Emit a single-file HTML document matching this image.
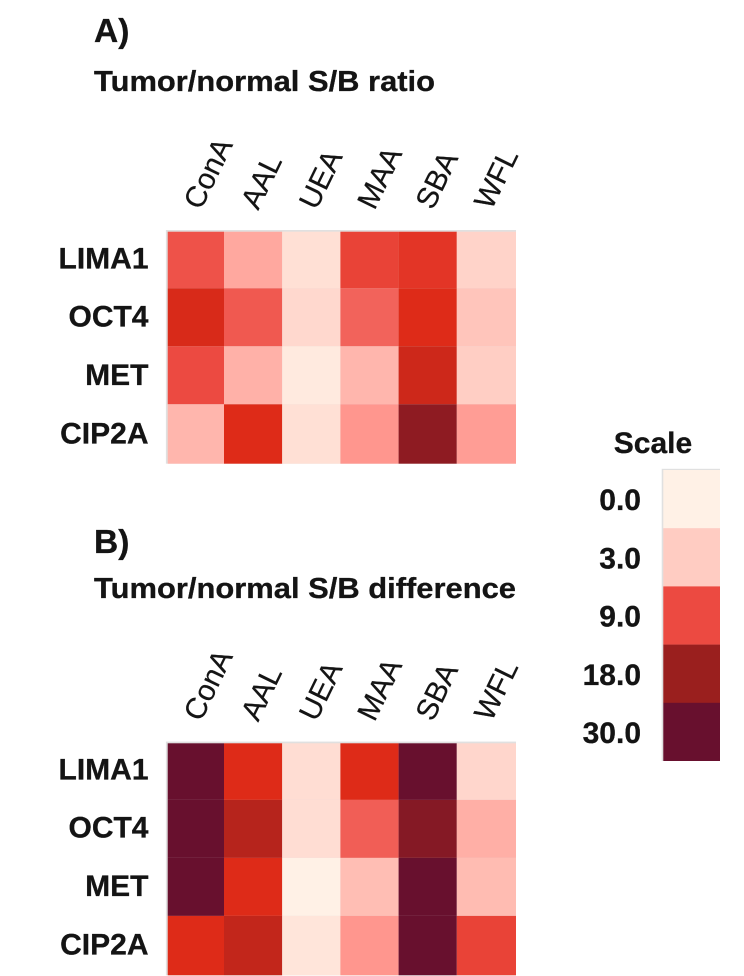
<!DOCTYPE html>
<html lang="en">
<head>
<meta charset="utf-8">
<title>Tumor/normal S/B heatmaps</title>
<style>
  html, body { margin: 0; padding: 0; background: #fff; }
  body { width: 744px; height: 976px; overflow: hidden; }
  svg { display: block; }
  text { font-family: "Liberation Sans", Arial, sans-serif; fill: #141414; }
  .bold { font-weight: 700; stroke: #141414; stroke-width: 0.3; }
</style>
</head>
<body>
<svg id="chart" xmlns="http://www.w3.org/2000/svg" width="744" height="976" viewBox="0 0 744 976">
  <text class="bold" x="94" y="42" font-size="33.5">A)</text>
  <text class="bold" x="94" y="91" font-size="28.5" textLength="341" lengthAdjust="spacingAndGlyphs">Tumor/normal S/B ratio</text>
  <text class="bold" x="94" y="553" font-size="33.5">B)</text>
  <text class="bold" x="94" y="598" font-size="28.5" textLength="422" lengthAdjust="spacingAndGlyphs">Tumor/normal S/B difference</text>
  <text class="bold" x="653" y="453" font-size="30" text-anchor="middle">Scale</text>
</svg>
<script>
// ---- Data ----
const lectins = ['ConA', 'AAL', 'UEA', 'MAA', 'SBA', 'WFL'];
const markers = ['LIMA1', 'OCT4', 'MET', 'CIP2A'];
const ratioValues = [
  [8.7, 5.0, 1.4, 9.7, 11.0, 2.4],
  [12.5, 8.4, 2.0, 8.0, 12.0, 3.4],
  [9.0, 4.5, 0.6, 4.2, 13.5, 2.8],
  [4.2, 12.0, 1.4, 6.0, 21.0, 5.6]
];
const differenceValues = [
  [30, 12, 1.6, 12, 30, 2.2],
  [30, 15.5, 1.6, 8.2, 23, 4.6],
  [30, 12, 0, 3.8, 30, 3.9],
  [12, 14.5, 1.0, 6.0, 30, 9.7]
];
const scaleValues = [0, 3, 9, 18, 30];
const scaleLabels = ['0.0', '3.0', '9.0', '18.0', '30.0'];

// ---- Colour scale ----
const colorStops = [0, 3, 6, 9, 12, 18, 30];
const colorRamp = [
  [255, 241, 230], [255, 204, 194], [255, 150, 142], [236, 74, 65],
  [222, 43, 24], [154, 31, 30], [104, 16, 46]
];
function colorFor(v) {
  const c = Math.max(colorStops[0], Math.min(colorStops[colorStops.length - 1], v));
  let i = 0;
  while (i < colorStops.length - 2 && c > colorStops[i + 1]) i++;
  const t = (c - colorStops[i]) / (colorStops[i + 1] - colorStops[i]);
  const rgb = colorRamp[i].map((a, k) => Math.round(a + (colorRamp[i + 1][k] - a) * t));
  return 'rgb(' + rgb.join(',') + ')';
}

// ---- Helpers ----
const svg = document.getElementById('chart');
const NS = 'http://www.w3.org/2000/svg';
function make(tag, attrs) {
  const el = document.createElementNS(NS, tag);
  Object.keys(attrs).forEach(k => el.setAttribute(k, attrs[k]));
  svg.appendChild(el);
  return el;
}

// ---- Axis functions ----
const plotLeft = 167.7, plotRight = 516, colStep = 58.2;
function xEdge(i) {
  if (i <= 0) return plotLeft;
  if (i >= lectins.length) return plotRight;
  return 224 + colStep * (i - 1);
}
function rowEdge(top, i) {
  if (i <= 0) return top;
  if (i >= markers.length) return top + 232;
  return top + 56.6 + 58 * (i - 1);
}

function drawPanel(values, top, panelName, labelBase, baselineBase) {
  // grey frame on the left and top of the grid
  const frame = make('rect', { x: plotLeft - 1.8, y: top - 1.7, width: plotRight - plotLeft + 1.8, height: 233.7, fill: '#e0e0e0' });
  
  

  values.forEach((row, r) => {
    row.forEach((v, c) => {
      const x0 = xEdge(c), x1 = xEdge(c + 1), y0 = rowEdge(top, r), y1 = rowEdge(top, r + 1);
      const cell = make('rect', { x: x0, y: y0, width: x1 - x0, height: y1 - y0, fill: colorFor(v) });
      
      
    });
  });

  markers.forEach((m, r) => {
    const t = make('text', { x: 148.5, y: baselineBase + 58.35 * r, 'font-size': 30, 'text-anchor': 'end', 'class': 'bold' });
    t.textContent = m;
    
    
  });

  lectins.forEach((l, c) => {
    const cx = (xEdge(c) + xEdge(c + 1)) / 2;
    const px = cx + 5, py = labelBase;
    const t = make('text', { x: 0, y: 0, 'font-size': 29.5, stroke: '#141414', 'stroke-width': 0.2, transform: 'matrix(0.44 -0.9 0.9 0.44 ' + px + ' ' + py + ')' });
    t.textContent = l;
    
    
  });
}

drawPanel(ratioValues, 231.7, 'panel-a', 211, 268.3);
drawPanel(differenceValues, 743.3, 'panel-b', 722.6, 779.3);

// ---- Legend ----
const legendLeft = 663.3, legendRight = 720, legendTop = 470, legendStep = 58.2;
const legendFrame = make('rect', { x: legendLeft - 1.6, y: legendTop - 1.2, width: legendRight - legendLeft + 1.6, height: 292.2, fill: '#e0e0e0' });


scaleValues.forEach((v, i) => {
  const y = legendTop + legendStep * i;
  const swatch = make('rect', { x: legendLeft, y: y, width: legendRight - legendLeft, height: legendStep + (i === scaleValues.length - 1 ? 0 : 0.2), fill: colorFor(v) });
  
  
  const t = make('text', { x: 641, y: 510 + 58.3 * i, 'font-size': 30, 'text-anchor': 'end', 'class': 'bold' });
  t.textContent = scaleLabels[i];
  
  
});
</script>
</body>
</html>
